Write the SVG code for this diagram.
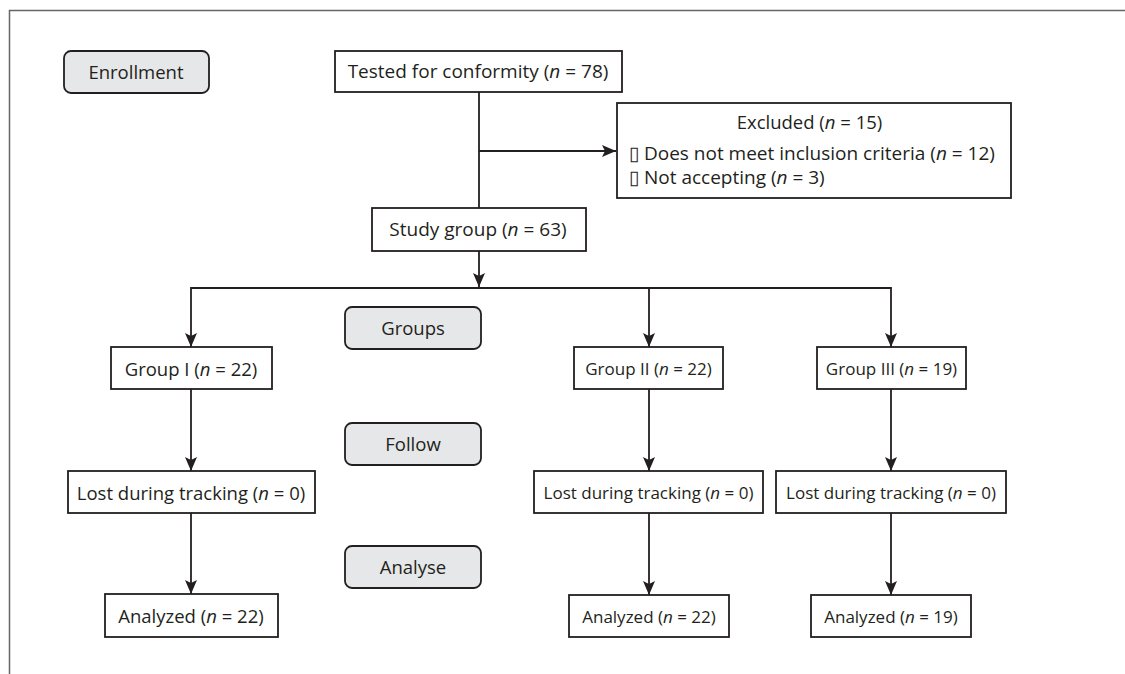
<svg xmlns="http://www.w3.org/2000/svg" width="1125" height="674" viewBox="0 0 1125 674">
<defs>
<style>
.box{fill:#fff;stroke:#231f20;stroke-width:1.8}
.stage{fill:#e6e7e8;stroke:#231f20;stroke-width:1.8}
.t{font-family:"Open Sans","Noto Sans",sans-serif;font-size:18.5px;fill:#231f20;text-anchor:middle;dominant-baseline:central}
.s{font-size:17px}
.b{font-size:19px}
.l{text-anchor:start}
.c{fill:none;stroke:#231f20;stroke-width:1.8}
</style>
<marker id="ah" markerWidth="14" markerHeight="12" refX="14" refY="6" orient="auto" markerUnits="userSpaceOnUse">
<path d="M0,0 L14,6 L0,12 L3,6 Z" fill="#231f20"/>
</marker>
</defs>
<rect width="1125" height="674" fill="#fff"/>
<path d="M9.5,674 V10.5 H1125" fill="none" stroke="#666" stroke-width="1.5"/>

<g id="connectors">
<path class="c" d="M479,92 V208"/>
<path class="c" d="M479,151 H616" marker-end="url(#ah)"/>
<path class="c" d="M479,251 V287" marker-end="url(#ah)"/>
<path class="c" d="M191,288 H891"/>
<path class="c" d="M191,287.1 V347" marker-end="url(#ah)"/>
<path class="c" d="M649,288 V347" marker-end="url(#ah)"/>
<path class="c" d="M891,287.1 V347" marker-end="url(#ah)"/>
<path class="c" d="M191,389 V471" marker-end="url(#ah)"/>
<path class="c" d="M649,389 V471" marker-end="url(#ah)"/>
<path class="c" d="M891,389 V471" marker-end="url(#ah)"/>
<path class="c" d="M191,513 V594" marker-end="url(#ah)"/>
<path class="c" d="M649,513 V595" marker-end="url(#ah)"/>
<path class="c" d="M891,513 V595" marker-end="url(#ah)"/>
</g>

<g id="enrollment"><rect class="stage" x="64" y="51" width="145" height="42" rx="7"/><text class="t" x="136" y="71">Enrollment</text></g>
<g id="groups"><rect class="stage" x="345" y="307" width="136" height="42" rx="7"/><text class="t" x="413" y="327">Groups</text></g>
<g id="follow"><rect class="stage" x="345" y="423" width="136" height="42" rx="7"/><text class="t" x="413" y="443">Follow</text></g>
<g id="analyse"><rect class="stage" x="345" y="546" width="136" height="42" rx="7"/><text class="t" x="413" y="566">Analyse</text></g>

<g id="tested"><rect class="box" x="335" y="51" width="287" height="41"/><text class="t b" x="478" y="71">Tested for conformity (<tspan font-style="italic">n</tspan> = 78)</text></g>
<g id="excluded"><rect class="box" x="617" y="103" width="394" height="95"/>
<text class="t" x="809.5" y="121">Excluded (<tspan font-style="italic">n</tspan> = 15)</text>
<text class="t l b" x="629" y="153">▯ Does not meet inclusion criteria (<tspan font-style="italic">n</tspan> = 12)</text>
<text class="t l b" x="629" y="177">▯ Not accepting (<tspan font-style="italic">n</tspan> = 3)</text></g>
<g id="study"><rect class="box" x="372" y="208" width="214" height="43"/><text class="t b" x="478" y="229">Study group (<tspan font-style="italic">n</tspan> = 63)</text></g>

<g id="group1"><rect class="box" x="111" y="347" width="161" height="42"/><text class="t" x="191" y="368">Group I (<tspan font-style="italic">n</tspan> = 22)</text></g>
<g id="group2"><rect class="box" x="574" y="347" width="149" height="42"/><text class="t s" x="648.5" y="368">Group II (<tspan font-style="italic">n</tspan> = 22)</text></g>
<g id="group3"><rect class="box" x="817" y="347" width="149" height="42"/><text class="t s" x="891.5" y="368">Group III (<tspan font-style="italic">n</tspan> = 19)</text></g>

<g id="lost1"><rect class="box" x="68" y="471" width="247" height="42"/><text class="t" x="191" y="492">Lost during tracking (<tspan font-style="italic">n</tspan> = 0)</text></g>
<g id="lost2"><rect class="box" x="534" y="471" width="229" height="42"/><text class="t s" x="648.5" y="492">Lost during tracking (<tspan font-style="italic">n</tspan> = 0)</text></g>
<g id="lost3"><rect class="box" x="776" y="471" width="230" height="42"/><text class="t s" x="891" y="492">Lost during tracking (<tspan font-style="italic">n</tspan> = 0)</text></g>

<g id="analyzed1"><rect class="box" x="105" y="594" width="173" height="43"/><text class="t" x="191" y="615">Analyzed (<tspan font-style="italic">n</tspan> = 22)</text></g>
<g id="analyzed2"><rect class="box" x="569" y="595" width="160" height="42"/><text class="t s" x="649" y="616">Analyzed (<tspan font-style="italic">n</tspan> = 22)</text></g>
<g id="analyzed3"><rect class="box" x="811" y="595" width="160" height="42"/><text class="t s" x="891" y="616">Analyzed (<tspan font-style="italic">n</tspan> = 19)</text></g>
</svg>
